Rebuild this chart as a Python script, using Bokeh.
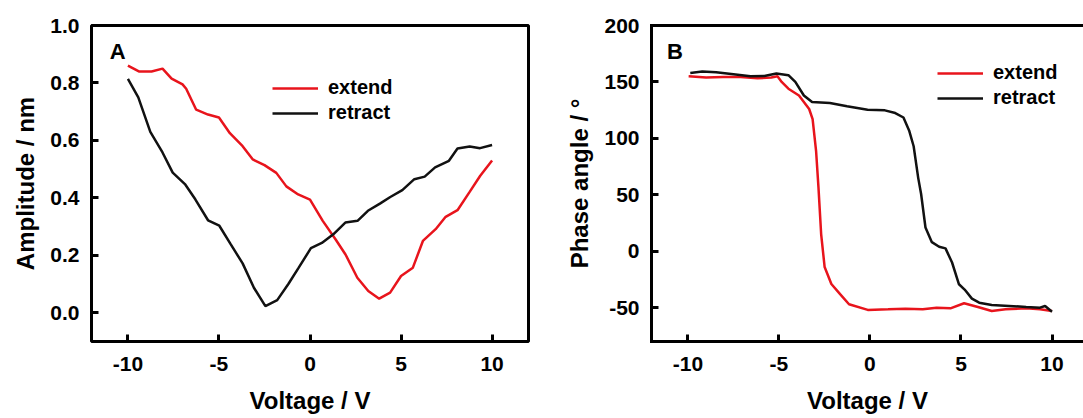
from bokeh.plotting import figure
from bokeh.models import (Range1d, FixedTicker, LinearAxis, Legend, LegendItem, Label,
                          PrintfTickFormatter)
from bokeh.layouts import row
from bokeh.embed import file_html
from bokeh.resources import INLINE

# ---------------- data ----------------
volt_a_extend = [-10, -9.4, -8.7, -8.1, -7.6, -7.0, -6.8, -6.25, -5.6, -5.0, -4.4, -3.7,
                 -3.15, -2.5, -1.85, -1.3, -0.65, 0.0, 0.7, 1.4, 1.95, 2.6, 3.2, 3.8,
                 4.4, 5.0, 5.65, 6.2, 6.9, 7.45, 8.1, 8.75, 9.35, 10]
amp_extend = [0.86, 0.84, 0.84, 0.85, 0.815, 0.795, 0.78, 0.707, 0.69, 0.68, 0.625, 0.58,
              0.534, 0.514, 0.487, 0.44, 0.412, 0.394, 0.32, 0.256, 0.203, 0.122, 0.076, 0.049,
              0.07, 0.128, 0.157, 0.25, 0.291, 0.334, 0.357, 0.419, 0.477, 0.53]

volt_a_retract = [-10, -9.43, -8.77, -8.1, -7.54, -6.87, -6.3, -5.6, -4.98, -4.35, -3.7, -3.08,
                  -2.45, -1.8, -1.18, -0.62, 0.05, 0.65, 1.28, 1.94, 2.61, 3.18, 3.84, 4.41,
                  5.07, 5.73, 6.3, 6.87, 7.63, 8.1, 8.77, 9.34, 10]
amp_retract = [0.814, 0.75, 0.63, 0.558, 0.488, 0.448, 0.395, 0.322, 0.303, 0.238, 0.172, 0.087,
               0.023, 0.044, 0.101, 0.157, 0.225, 0.243, 0.273, 0.314, 0.32, 0.355, 0.38, 0.403,
               0.427, 0.465, 0.474, 0.506, 0.529, 0.572, 0.579, 0.573, 0.584]

volt_b_extend = [-9.96, -9.0, -8.07, -7.1, -6.18, -5.42, -5.08, -4.85, -4.48, -3.9, -3.34, -3.15,
                 -2.96, -2.83, -2.68, -2.49, -2.12, -1.64, -1.15, -0.12, 1.0, 1.95, 2.9, 3.66,
                 4.42, 5.17, 5.93, 6.69, 7.45, 8.58, 9.34, 10]
phase_extend = [155, 154, 154.4, 154.4, 153.3, 153.9, 155, 150, 144, 138, 126, 117,
                89, 57, 15, -14, -29, -38, -47, -52, -51.5, -50.9, -51.5, -50,
                -50.6, -46.1, -49.4, -53, -51.5, -50.6, -51.5, -53]

volt_b_retract = [-9.87, -9.21, -8.45, -7.5, -6.56, -5.8, -5.14, -4.48, -4.1, -3.63, -3.18, -2.2,
                  -1.26, -0.13, 0.82, 1.39, 1.84, 2.15, 2.4, 2.65, 2.81, 3.05, 3.4, 3.8,
                  4.15, 4.51, 4.89, 5.2, 5.6, 6.0, 6.69, 7.64, 8.58, 9.34, 9.62, 10]
phase_retract = [158, 159.2, 158.6, 156.8, 155, 155.3, 157.4, 156, 150, 138, 132.2, 131.3,
                 128.4, 125.4, 124.8, 122.4, 118.5, 107, 93, 65, 50.7, 21, 8, 4,
                 2.5, -10, -29.3, -34, -42, -45.6, -47.6, -48.5, -49.4, -50, -48.5, -53.6]

x_ticks = [-10, -5, 0, 5, 10]
amp_ticks = [0.0, 0.2, 0.4, 0.6, 0.8, 1.0]
phase_ticks = [-50, 0, 50, 100, 150, 200]
series_names = ["extend", "retract"]
x_title = "Voltage / V"
amp_title = "Amplitude / nm"
phase_title = "Phase angle / °"

# ---------------- style ----------------
FONT = "Liberation Sans"
RED = "#e8141c"
BLACK = "#111111"


def style_axis(ax, ticks, fmt, title, label_standoff, title_standoff):
    ax.ticker = FixedTicker(ticks=ticks)
    ax.formatter = PrintfTickFormatter(format=fmt)
    ax.axis_label = title
    ax.axis_label_text_font = FONT
    ax.axis_label_text_font_style = "bold"
    ax.axis_label_text_font_size = "24px"
    ax.axis_label_text_color = "black"
    ax.major_label_text_font = FONT
    ax.major_label_text_font_style = "bold"
    ax.major_label_text_font_size = "21px"
    ax.major_label_text_color = "black"
    ax.major_label_standoff = label_standoff
    ax.axis_label_standoff = title_standoff
    ax.major_tick_in = 7
    ax.major_tick_out = 0
    ax.major_tick_line_width = 3
    ax.major_tick_line_color = "black"
    ax.minor_tick_line_color = None


def make_legend(r_ext, r_ret, loc):
    leg = Legend(items=[LegendItem(label=series_names[0], renderers=[r_ext]),
                        LegendItem(label=series_names[1], renderers=[r_ret])],
                 location=loc)
    leg.label_text_font = FONT
    leg.label_text_font_style = "bold"
    leg.label_text_font_size = "20px"
    leg.label_text_color = "black"
    leg.glyph_width = 46
    leg.glyph_height = 20
    leg.label_height = 20
    leg.label_standoff = 10
    leg.spacing = 2
    leg.padding = 0
    leg.margin = 0
    leg.border_line_color = None
    leg.background_fill_alpha = 0
    return leg


# ---------------- panel A ----------------
pA = figure(width=545, height=418, output_backend="svg", toolbar_location=None,
            x_range=Range1d(-12, 12), y_range=Range1d(-0.1, 1.0),
            min_border_left=91, min_border_right=17, min_border_top=25, min_border_bottom=77)
pA.grid.visible = False
pA.outline_line_color = "black"
pA.outline_line_width = 3
pA.background_fill_color = "white"
pA.border_fill_color = "white"
style_axis(pA.xaxis[0], x_ticks, "%d", x_title, 15, 13)
style_axis(pA.yaxis[0], amp_ticks, "%.1f", amp_title, 12, 8)
pA.xaxis[0].axis_line_color = None
pA.yaxis[0].axis_line_color = None

rAe = pA.line(volt_a_extend, amp_extend, line_color=RED, line_width=2.5)
rAr = pA.line(volt_a_retract, amp_retract, line_color=BLACK, line_width=2.5)
pA.add_layout(make_legend(rAe, rAr, (181, 217)))
pA.add_layout(Label(x=-11.0, y=0.908, text="A", text_font=FONT, text_font_style="bold",
                    text_font_size="22px", text_align="left", text_baseline="alphabetic",
                    text_color="black"))

# ---------------- panel B ----------------
pB = figure(width=538, height=418, output_backend="svg", toolbar_location=None,
            x_range=Range1d(-12, 11.73), y_range=Range1d(-80, 200),
            min_border_left=106, min_border_right=0, min_border_top=25, min_border_bottom=77)
pB.grid.visible = False
pB.outline_line_color = None
pB.background_fill_color = "white"
pB.border_fill_color = "white"
style_axis(pB.xaxis[0], x_ticks, "%d", x_title, 15, 13)
style_axis(pB.yaxis[0], phase_ticks, "%d", phase_title, 12, 8)
for ax in (pB.xaxis[0], pB.yaxis[0]):
    ax.axis_line_width = 3
    ax.axis_line_color = "black"
    ax.axis_line_cap = "square"
top_axis = LinearAxis(ticker=FixedTicker(ticks=[]), major_tick_in=0, major_tick_out=0,
                      minor_tick_line_color=None, major_label_text_font_size="0px",
                      axis_line_width=3, axis_line_color="black", axis_line_cap="square")
pB.add_layout(top_axis, "above")

rBe = pB.line(volt_b_extend, phase_extend, line_color=RED, line_width=2.5)
rBr = pB.line(volt_b_retract, phase_retract, line_color=BLACK, line_width=2.5)
pB.add_layout(make_legend(rBe, rBr, (286, 232)))
pB.add_layout(Label(x=-11.15, y=177, text="B", text_font=FONT, text_font_style="bold",
                    text_font_size="22px", text_align="left", text_baseline="alphabetic",
                    text_color="black"))

layout = row(pA, pB, spacing=0)
open("out.html", "w").write(file_html(layout, INLINE))
